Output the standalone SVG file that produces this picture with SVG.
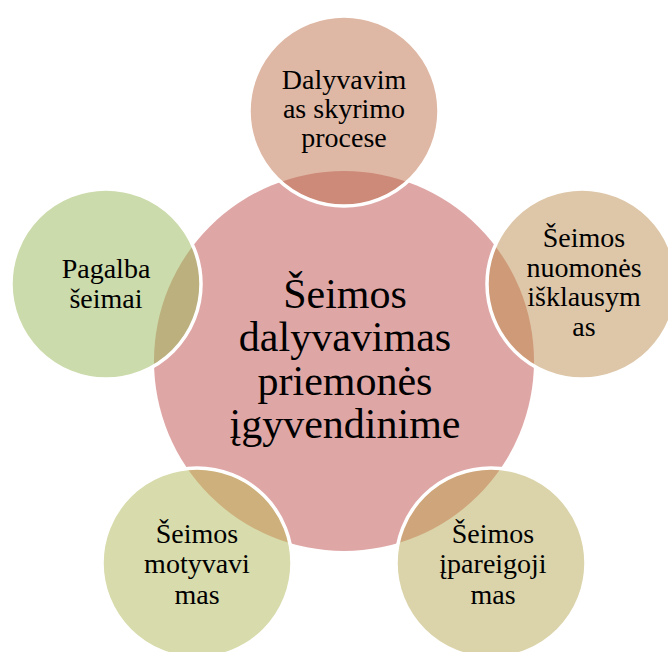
<svg xmlns="http://www.w3.org/2000/svg" width="668" height="652" viewBox="0 0 668 652">
<style>
text{fill:#000;text-anchor:middle;font-family:'Liberation Serif','Times New Roman',Times,'DejaVu Serif',serif}
.s{font-size:28px}
.c{font-size:42px}
.ring{fill:none;stroke:#fff;stroke-width:3.5}
</style>
<defs>
<clipPath id="cc"><circle cx="344" cy="361" r="190"/></clipPath>
</defs>
<rect width="668" height="652" fill="#fff"/>
<g id="center">
<circle cx="344" cy="361" r="190" fill="#dfa6a6"/>
</g>
<g id="n-top">
<circle cx="344" cy="111" r="95" fill="#dfb8a5"/>
<circle cx="344" cy="111" r="95" fill="#cd8a78" clip-path="url(#cc)"/>
<circle class="ring" cx="344" cy="111" r="95"/>
<text class="s" x="344" y="89">Dalyvavim</text>
<text class="s" x="344" y="118">as skyrimo</text>
<text class="s" x="344" y="147">procese</text>
</g>
<g id="n-right">
<circle cx="582" cy="284" r="95" fill="#dec7a9"/>
<circle cx="582" cy="284" r="95" fill="#cf9a78" clip-path="url(#cc)"/>
<circle class="ring" cx="582" cy="284" r="95"/>
<text class="s" x="584" y="247">Šeimos</text>
<text class="s" x="584" y="277">nuomonės</text>
<text class="s" x="584" y="306">išklausym</text>
<text class="s" x="584" y="336">as</text>
</g>
<g id="n-bottom-right">
<circle cx="491" cy="563" r="95" fill="#dbd4ab"/>
<circle cx="491" cy="563" r="95" fill="#cfa67b" clip-path="url(#cc)"/>
<circle class="ring" cx="491" cy="563" r="95"/>
<text class="s" x="493" y="543">Šeimos</text>
<text class="s" x="493" y="573">įpareigoji</text>
<text class="s" x="493" y="604">mas</text>
</g>
<g id="n-bottom-left">
<circle cx="197" cy="563" r="95" fill="#d8dbab"/>
<circle cx="197" cy="563" r="95" fill="#cdb07b" clip-path="url(#cc)"/>
<circle class="ring" cx="197" cy="563" r="95"/>
<text class="s" x="197" y="543">Šeimos</text>
<text class="s" x="197" y="573">motyvavi</text>
<text class="s" x="197" y="604">mas</text>
</g>
<g id="n-left">
<circle cx="106" cy="284" r="95" fill="#ccdbab"/>
<circle cx="106" cy="284" r="95" fill="#bbb07e" clip-path="url(#cc)"/>
<circle class="ring" cx="106" cy="284" r="95"/>
<text class="s" x="106" y="278">Pagalba</text>
<text class="s" x="106" y="308">šeimai</text>
</g>
<g id="center-label">
<text class="c" x="345" y="308">Šeimos</text>
<text class="c" x="345" y="351">dalyvavimas</text>
<text class="c" x="345" y="395">priemonės</text>
<text class="c" x="345" y="438">įgyvendinime</text>
</g>
<g id="connectors"/>
</svg>
